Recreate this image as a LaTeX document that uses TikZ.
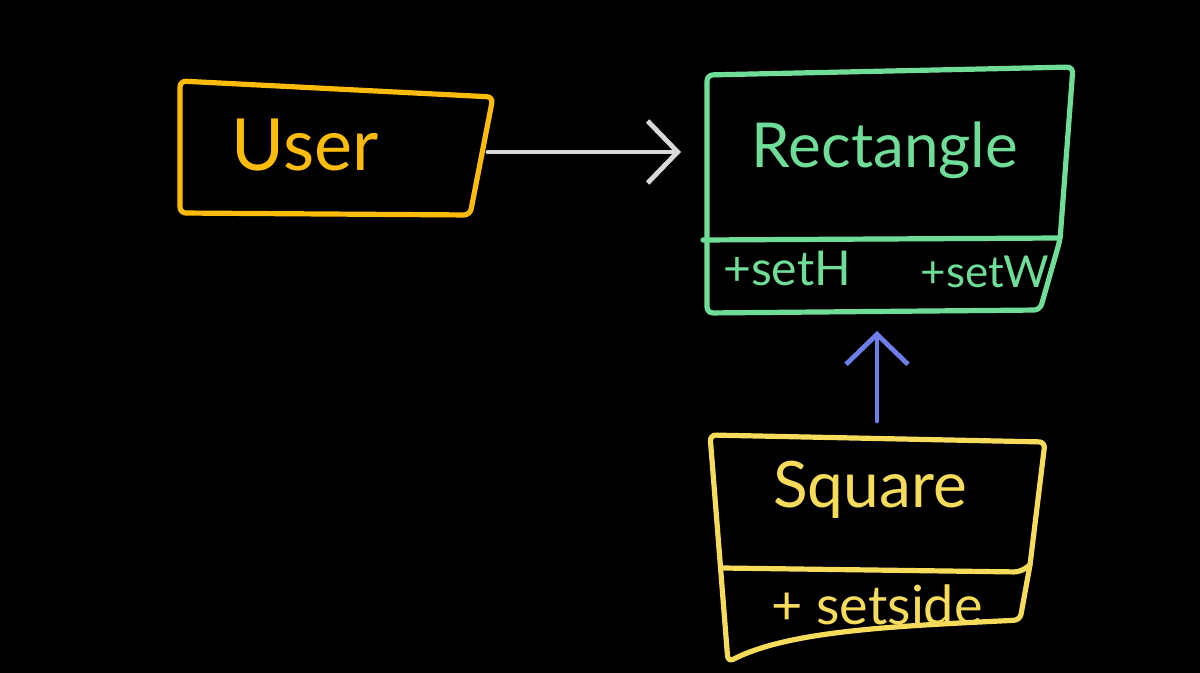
\documentclass[tikz,border=0pt]{standalone}
\usepackage{fontspec}
\setmainfont{Lato}
\usetikzlibrary{arrows.meta}
\definecolor{userc}{HTML}{FDBB0A}
\definecolor{rectc}{HTML}{6FDC97}
\definecolor{sqc}{HTML}{F7DC5C}
\definecolor{grayc}{HTML}{D9D9D9}
\definecolor{bluec}{HTML}{6C7EE8}
\tikzset{
  outline/.style={line width=2.6pt, line cap=round, line join=round, rounded corners=3pt},
  hidden/.style={draw=none, inner sep=0pt, outer sep=0pt},
  lbl/.style={inner sep=0pt},
  conn/.style={line width=2.4pt, line cap=round, line join=round,
    -{Straight Barb[length=15pt,width=31pt,line width=2.4pt]}},
}
\begin{document}
\begin{tikzpicture}[x=0.5pt,y=-0.5pt]
\fill[black] (0,0) rectangle (1200,673);
% hidden box nodes
\node[hidden, minimum width=158pt, minimum height=66pt] (user) at (330,152) {};
\node[hidden, minimum width=183pt, minimum height=120pt] (rect) at (890,193) {};
\node[hidden, minimum width=167.5pt, minimum height=113pt] (square) at (877,548) {};
% User box
\draw[outline, userc] (180,81) -- (493,97) -- (470,215) -- (180,213) -- cycle;
\node[lbl, text=userc, font=\fontsize{36}{40}\selectfont] (userlbl) at (305,145) {User};
% Rectangle box
\draw[outline, rectc] (707,75) -- (1073,67) -- (1060,240) -- (1040,310) -- (707,313) -- cycle;
\draw[outline, rectc] (703,240) -- (1060,238);
\node[lbl, text=rectc, font=\fontsize{31}{36}\selectfont] (rectlbl) at (885,150) {Rectangle};
\node[lbl, text=rectc, font=\fontsize{24}{28}\selectfont] (seth) at (787,268) {+setH};
\node[lbl, text=rectc, font=\fontsize{22}{26}\selectfont] (setw) at (985,272) {+setW};
% Square box
\draw[outline, sqc] (710,435) -- (1045,442) -- (1030,565) -- (1020,620)
  .. controls (900,626) and (790,630) .. (728,662) -- cycle;
\draw[outline, sqc] (722,568) -- (1020,572) -- (1030,565);
\node[lbl, text=sqc, font=\fontsize{32}{36}\selectfont] (sqlbl) at (870,490) {Square};
\node[lbl, text=sqc, font=\fontsize{27}{30}\selectfont] (setside) at (877,605) {+ setside};
% connectors
\draw[conn, grayc, shorten >=13pt] (user.east) -- (user.east -| rect.west);
\draw[conn, bluec, shorten >=9pt, shorten <=7pt] (square.north) -- (square.north |- rect.south);
\end{tikzpicture}
\end{document}
